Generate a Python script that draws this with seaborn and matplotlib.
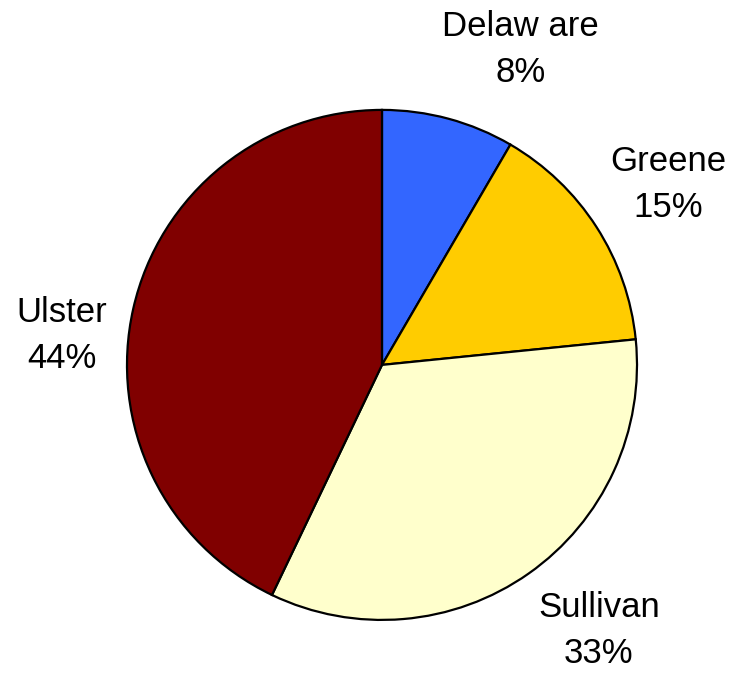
import matplotlib
matplotlib.use("Agg")
import matplotlib.pyplot as plt
import seaborn as sns
import numpy as np

counties = ["Delaw are", "Greene", "Sullivan", "Ulster"]
shares = [8.4, 15.0, 33.7, 42.9]
pct_labels = ["8%", "15%", "33%", "44%"]
colors = ["#3366FF", "#FFCC00", "#FFFFCC", "#800000"]

sns.set_theme(style="white")
plt.rcParams["font.family"] = ["Liberation Sans", "DejaVu Sans"]

fig = plt.figure(figsize=(7.39, 6.75), dpi=100)
ax = fig.add_axes([0, 0, 1, 1])

labels = [f"{c}\n{p}" for c, p in zip(counties, pct_labels)]
wedges, texts = ax.pie(
    shares, colors=colors, startangle=90, counterclock=False,
    labels=labels, labeldistance=1.3,
    wedgeprops=dict(edgecolor="black", linewidth=1.6),
    textprops=dict(fontsize=25, color="black", ha="center", va="center",
                   linespacing=1.5),
)

# Label placement (angle clockwise from top in degrees, distance in radii)
label_layout = [(23.7, 1.349), (57.8, 1.325), (140.8, 1.345), (275.2, 1.26)]
for t, (ang, d) in zip(texts, label_layout):
    a = np.deg2rad(ang)
    t.set_position((d * np.sin(a), d * np.cos(a)))
    t.set_ha("center")
    t.set_va("center")

ax.set_aspect("auto")
ax.set_xlim(-1.498, 1.4)
ax.set_ylim(-1.216, 1.431)
ax.axis("off")

fig.savefig("out.png", dpi=100, facecolor="white")
